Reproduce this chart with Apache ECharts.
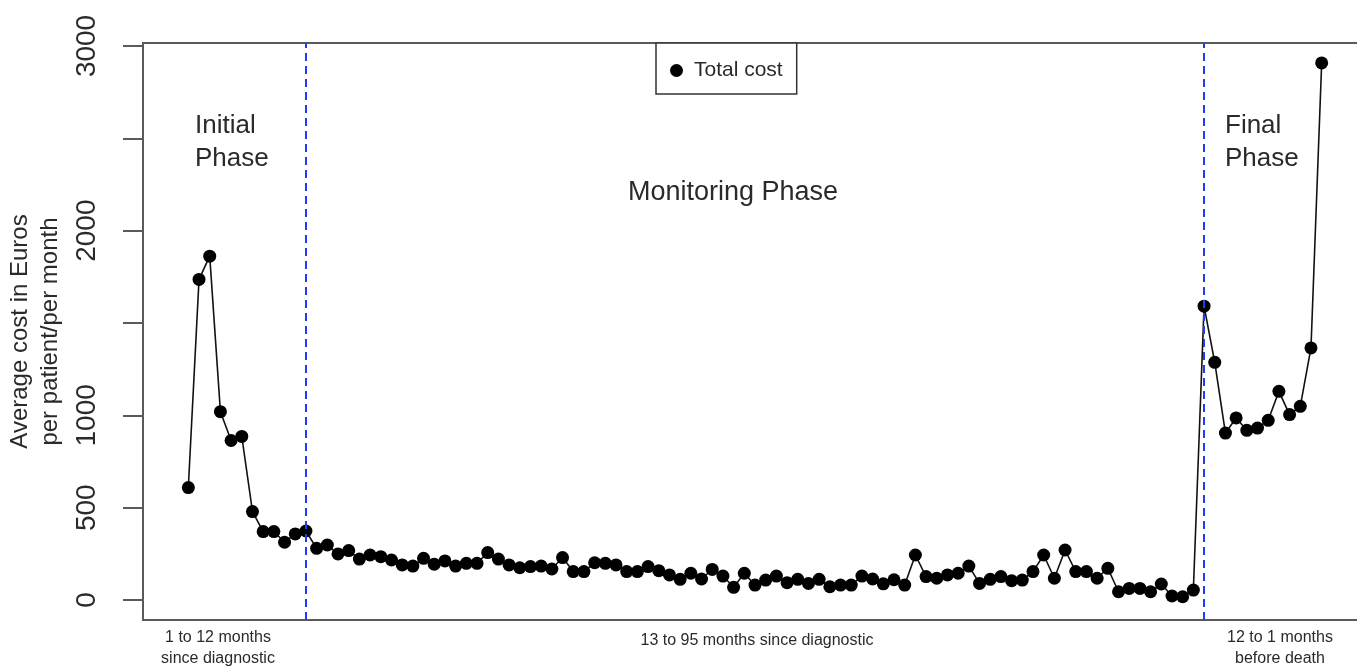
<!DOCTYPE html>
<html>
<head>
<meta charset="utf-8">
<script src="https://cdn.jsdelivr.net/npm/echarts@6/dist/echarts.min.js"></script>
<style>
  html, body { margin: 0; padding: 0; background: #fff; }
  #chart { width: 1357px; height: 667px; }
</style>
</head>
<body>
<div id="chart"></div>
<script>
// Average monthly cost per patient (EUR), by phase of care
const initialPhase = [609, 1736, 1862, 1020, 864, 886, 479, 371, 371, 313, 358, 374];
const monitoringPhase = [
  280, 298, 250, 268, 222, 244, 235, 217, 190, 184,
  226, 194, 212, 184, 199, 199, 257, 222, 190, 175,
  181, 184, 168, 230, 154, 154, 202, 199, 190, 154,
  154, 181, 159, 136, 112, 145, 114, 166, 130, 69,
  145, 81, 108, 130, 94, 112, 90, 112, 72, 81,
  81, 130, 114, 88, 110, 81, 244, 127, 118, 136,
  145, 184, 90, 112, 127, 105, 108, 154, 244, 118,
  271, 154, 154, 118, 172, 45, 63, 63, 45, 87,
  22, 18, 54
];
const finalPhase = [1591, 1287, 904, 986, 919, 931, 973, 1130, 1004, 1049, 1365, 2908];

const yTicks = [0, 500, 1000, 1500, 2000, 2500, 3000];
const yLabels = [0, 500, 1000, 2000, 3000];
const phaseBreaks = [initialPhase.length, initialPhase.length + monitoringPhase.length + 1];

const allCosts = initialPhase.concat(monitoringPhase, finalPhase);
const points = allCosts.map((v, i) => [i + 1, v]);

const FONT = 'Liberation Sans, Arial, Helvetica, sans-serif';
const INK = '#2a2a2a';
const n = allCosts.length;
const pad = (n - 1) * 0.04;

const chart = echarts.init(document.getElementById('chart'), null, { renderer: 'canvas' });

chart.setOption({
  animation: false,
  backgroundColor: '#fff',
  textStyle: { fontFamily: FONT },
  grid: {
    left: 143, top: 43, width: 1224, height: 577,
    outerBoundsMode: 'none',
    show: true, borderColor: '#5a5a5a', borderWidth: 2, containLabel: false
  },
  legend: {
    data: [{ name: 'Total cost', icon: 'circle' }],
    left: 656, top: 43,
    padding: [17, 14, 13, 14],
    itemWidth: 13, itemHeight: 13,
    borderColor: '#333', borderWidth: 1.5, borderRadius: 0,
    backgroundColor: '#fff',
    textStyle: { fontSize: 21, color: INK, fontFamily: FONT, padding: [0, 0, 0, 6] }
  },
  xAxis: {
    type: 'value',
    min: 1 - pad, max: n + pad,
    axisLine: { show: false, onZero: false },
    axisTick: { show: false },
    axisLabel: { show: false },
    splitLine: { show: false }
  },
  yAxis: {
    type: 'value',
    min: -108, max: 3016,
    name: 'Average cost in Euros\nper patient/per month',
    nameLocation: 'middle',
    nameRotate: 90,
    nameGap: 72,
    nameTextStyle: { fontSize: 24, lineHeight: 30, color: INK, fontFamily: FONT },
    axisLine: { show: false, onZero: false },
    axisTick: {
      show: true, length: 20, inside: false,
      customValues: yTicks,
      lineStyle: { color: '#5a5a5a', width: 2 }
    },
    axisLabel: {
      show: true, rotate: 90, margin: 42,
      customValues: yLabels,
      formatter: v => String(v),
      fontSize: 28, color: INK, fontFamily: FONT
    },
    splitLine: { show: false }
  },
  series: [{
    name: 'Total cost',
    type: 'line',
    data: points,
    symbol: 'circle',
    symbolSize: 13,
    itemStyle: { color: '#000' },
    lineStyle: { color: '#111', width: 1.6 },
    z: 3,
    markLine: {
      silent: true,
      symbol: ['none', 'none'],
      label: { show: false },
      lineStyle: { color: '#1f3df2', width: 2, type: [8, 5] },
      data: phaseBreaks.map(x => ({ xAxis: x }))
    }
  }],
  graphic: [
    { type: 'text', left: 195, top: 109,
      style: { text: 'Initial\nPhase', font: '26px ' + FONT, lineHeight: 33, fill: INK } },
    { type: 'text', left: 1225, top: 109,
      style: { text: 'Final\nPhase', font: '26px ' + FONT, lineHeight: 33, fill: INK } },
    { type: 'text', x: 733, y: 193,
      style: { text: 'Monitoring Phase', font: '27px ' + FONT, fill: INK, align: 'center', verticalAlign: 'middle' } },
    { type: 'text', x: 218, y: 627,
      style: { text: '1 to 12 months\nsince diagnostic', font: '16px ' + FONT, lineHeight: 21, fill: INK, align: 'center', verticalAlign: 'top' } },
    { type: 'text', x: 757, y: 641,
      style: { text: '13 to 95 months since diagnostic', font: '16px ' + FONT, fill: INK, align: 'center', verticalAlign: 'middle' } },
    { type: 'text', x: 1280, y: 627,
      style: { text: '12 to 1 months\nbefore death', font: '16px ' + FONT, lineHeight: 21, fill: INK, align: 'center', verticalAlign: 'top' } }
  ]
});
</script>
</body>
</html>
